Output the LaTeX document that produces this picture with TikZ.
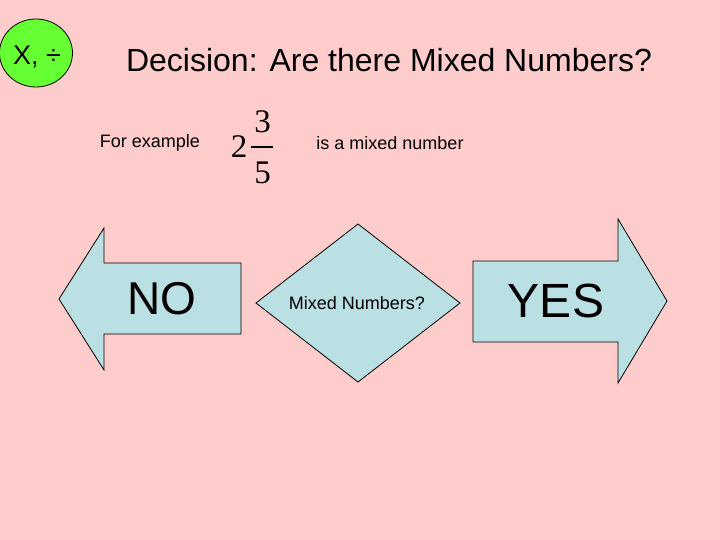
\documentclass[tikz,border=0pt]{standalone}
\usepackage{fontspec}
\usetikzlibrary{shapes.geometric}
\setmainfont{Liberation Sans}
\newfontfamily\timesfont{Liberation Serif}
\definecolor{slidepink}{RGB}{255,204,204}
\definecolor{opgreen}{RGB}{102,255,51}
\definecolor{boxblue}{RGB}{187,224,228}

\begin{document}
\begin{tikzpicture}[x=1pt,y=-1pt,
  blueshape/.style={draw=black,fill=boxblue,line width=0.8pt,line join=miter},
  txt/.style={inner sep=0pt,text=black},
  digit/.style={inner sep=0pt,anchor=base,font=\fontsize{33}{36}\timesfont}]
\fill[slidepink] (0,0) rectangle (720,540);
\useasboundingbox (0,0) rectangle (720,540);
% operation badge
\node (ops) at (36,53) [ellipse,draw=black,fill=opgreen,line width=0.8pt,minimum width=73pt,minimum height=68pt,inner sep=0pt] {};
\node (opslabel) at (37,57) [txt,font=\fontsize{27}{30}\selectfont] {X, ÷};
\node (title) at (389,60) [txt,font=\fontsize{32}{36}\selectfont] {Decision: Are there Mixed Numbers?};
\node (ex) at (150,143) [txt,font=\fontsize{18}{21}\selectfont] {For example};
% the mixed number 2 3/5
\node (whole) at (239,158) [digit] {2};
\node (num) at (262.5,133) [digit] {3};
\node (den) at (262.5,184) [digit] {5};
\draw[line width=1.3pt] (251,147) -- (273,147);
\node (mixed) at (390,143) [txt,font=\fontsize{18}{21}\selectfont] {is a mixed number};
% shapes
\draw[blueshape] (59,299) -- (104,228) -- (104,263) -- (241,263) -- (241,334) -- (104,334) -- (104,370) -- cycle;
\draw[blueshape] (358,224) -- (460,303) -- (358,382) -- (256,303) -- cycle;
\draw[blueshape] (473,261) -- (618,261) -- (618,219) -- (667,301) -- (618,383) -- (618,342) -- (473,342) -- cycle;
\node (no) at (162,299) [txt,font=\fontsize{46}{50}\selectfont] {NO};
\node (q) at (357,303) [txt,font=\fontsize{18}{21}\selectfont] {Mixed Numbers?};
\node (yes) at (556,301) [txt,font=\fontsize{48}{52}\selectfont] {YES};
\end{tikzpicture}
\end{document}
